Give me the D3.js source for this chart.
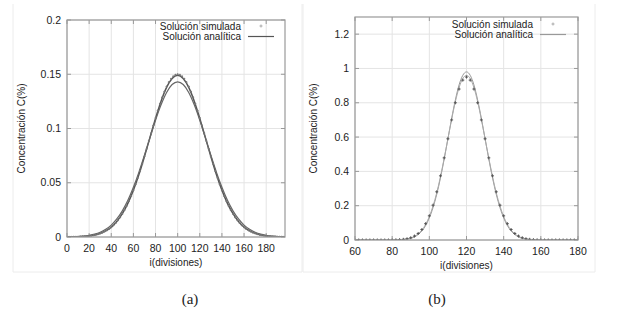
<!DOCTYPE html>
<html>
<head>
<meta charset="utf-8">
<script src="https://cdn.jsdelivr.net/npm/d3@7"></script>
<style>
  body { margin: 0; background: #fff; }
  svg { display: block; }
  text { font-family: "Liberation Sans", Arial, sans-serif; fill: #222; }
</style>
</head>
<body>
<svg id="chart" width="621" height="314"></svg>
<script>
// ---- panel (a) data ----
const simAx = d3.range(0, 200, 2);
const simAy = [
  0.0001, 0.0001, 0.0001, 0.0002, 0.0002, 0.0003, 0.0004, 0.0005, 0.0006, 0.0008,
  0.0010, 0.0013, 0.0016, 0.0021, 0.0026, 0.0033, 0.0040, 0.0050, 0.0061, 0.0074,
  0.0090, 0.0108, 0.0129, 0.0154, 0.0181, 0.0213, 0.0248, 0.0287, 0.0331, 0.0378,
  0.0430, 0.0485, 0.0545, 0.0608, 0.0674, 0.0743, 0.0813, 0.0885, 0.0956, 0.1028,
  0.1097, 0.1165, 0.1228, 0.1287, 0.1340, 0.1387, 0.1427, 0.1458, 0.1481, 0.1495,
  0.1500,
  0.1495, 0.1481, 0.1458, 0.1427, 0.1387, 0.1340, 0.1287, 0.1228, 0.1165, 0.1097,
  0.1028, 0.0956, 0.0885, 0.0813, 0.0743, 0.0674, 0.0608, 0.0545, 0.0485, 0.0430,
  0.0378, 0.0331, 0.0287, 0.0248, 0.0213, 0.0181, 0.0154, 0.0129, 0.0108, 0.0090,
  0.0074, 0.0061, 0.0050, 0.0040, 0.0033, 0.0026, 0.0021, 0.0016, 0.0013, 0.0010,
  0.0008, 0.0006, 0.0005, 0.0004, 0.0003, 0.0002, 0.0002, 0.0001, 0.0001
];
const anaAx = d3.range(0, 205, 5);
const anaAy = [
  0.0001, 0.0001, 0.0003, 0.0005, 0.0010, 0.0019, 0.0033, 0.0056, 0.0091, 0.0143,
  0.0215, 0.0310, 0.0431, 0.0576, 0.0742, 0.0918, 0.1093, 0.1252, 0.1379, 0.1461,
  0.1490,
  0.1461, 0.1379, 0.1252, 0.1093, 0.0918, 0.0742, 0.0576, 0.0431, 0.0310, 0.0215,
  0.0143, 0.0091, 0.0056, 0.0033, 0.0019, 0.0010, 0.0005, 0.0003, 0.0001, 0.0001
];
const ana2Ay = [
  0.0001, 0.0002, 0.0004, 0.0008, 0.0015, 0.0026, 0.0044, 0.0071, 0.0110, 0.0166,
  0.0241, 0.0338, 0.0458, 0.0598, 0.0753, 0.0916, 0.1076, 0.1218, 0.1332, 0.1405,
  0.1430,
  0.1405, 0.1332, 0.1218, 0.1076, 0.0916, 0.0753, 0.0598, 0.0458, 0.0338, 0.0241,
  0.0166, 0.0110, 0.0071, 0.0044, 0.0026, 0.0015, 0.0008, 0.0004, 0.0002, 0.0001
];
const xTicksA = [0, 20, 40, 60, 80, 100, 120, 140, 160, 180];
const yTicksA = [0, 0.05, 0.1, 0.15, 0.2];

// ---- panel (b) data ----
const simBx = d3.range(60, 182, 2);
const simBy = [
  0, 0, 0, 0, 0, 0, 0, 0, 0, 0, 0,
  0.001, 0.002, 0.004, 0.007, 0.013, 0.023, 0.038, 0.061, 0.095, 0.141,
  0.203, 0.281, 0.374, 0.479, 0.590, 0.700, 0.800, 0.880, 0.932,
  0.950,
  0.932, 0.880, 0.800, 0.700, 0.590, 0.479, 0.374, 0.281, 0.203, 0.141,
  0.095, 0.061, 0.038, 0.023, 0.013, 0.007, 0.004, 0.002, 0.001,
  0, 0, 0, 0, 0, 0, 0, 0, 0, 0, 0
];
const anaBy = [
  0, 0, 0, 0, 0, 0, 0, 0, 0, 0, 0,
  0.000, 0.001, 0.003, 0.005, 0.010, 0.018, 0.032, 0.053, 0.084, 0.129,
  0.189, 0.267, 0.362, 0.472, 0.590, 0.708, 0.816, 0.904, 0.960,
  0.980,
  0.960, 0.904, 0.816, 0.708, 0.590, 0.472, 0.362, 0.267, 0.189, 0.129,
  0.084, 0.053, 0.032, 0.018, 0.010, 0.005, 0.003, 0.001, 0.000,
  0, 0, 0, 0, 0, 0, 0, 0, 0, 0, 0
];
const ana2By = [
  0, 0, 0, 0, 0, 0, 0, 0, 0, 0, 0,
  0.001, 0.002, 0.003, 0.007, 0.012, 0.021, 0.036, 0.058, 0.091, 0.137,
  0.199, 0.276, 0.370, 0.477, 0.590, 0.703, 0.806, 0.888, 0.941,
  0.960,
  0.941, 0.888, 0.806, 0.703, 0.590, 0.477, 0.370, 0.276, 0.199, 0.137,
  0.091, 0.058, 0.036, 0.021, 0.012, 0.007, 0.003, 0.002, 0.001,
  0, 0, 0, 0, 0, 0, 0, 0, 0, 0, 0
];
const xTicksB = [60, 80, 100, 120, 140, 160, 180];
const yTicksB = [0, 0.2, 0.4, 0.6, 0.8, 1, 1.2];

const svg = d3.select("#chart");

// light figure frames
[[13, 302], [303, 595]].forEach(([l, r]) => {
  svg.append("path")
    .attr("d", `M${l},4V272H${r}V4`)
    .attr("fill", "none")
    .attr("stroke", "#ececec")
    .attr("stroke-width", 1);
});

function drawPanel(p) {
  const x = d3.scaleLinear().domain(p.xDomain).range([p.left, p.right]);
  const y = d3.scaleLinear().domain(p.yDomain).range([p.bottom, p.top]);
  const g = svg.append("g");

  // grid
  g.selectAll(".gx").data(p.xTicks).enter().append("line")
    .attr("x1", d => x(d)).attr("x2", d => x(d))
    .attr("y1", p.top).attr("y2", p.bottom)
    .attr("stroke", "#e4e4e4").attr("stroke-width", 1);
  g.selectAll(".gy").data(p.yTicks).enter().append("line")
    .attr("x1", p.left).attr("x2", p.right)
    .attr("y1", d => y(d)).attr("y2", d => y(d))
    .attr("stroke", "#e4e4e4").attr("stroke-width", 1);

  // ticks, inward and mirrored like gnuplot
  const tl = 4;
  p.xTicks.forEach(d => {
    g.append("line").attr("x1", x(d)).attr("x2", x(d)).attr("y1", p.bottom).attr("y2", p.bottom - tl).attr("stroke", "#999");
    g.append("line").attr("x1", x(d)).attr("x2", x(d)).attr("y1", p.top).attr("y2", p.top + tl).attr("stroke", "#999");
  });
  p.yTicks.forEach(d => {
    g.append("line").attr("x1", p.left).attr("x2", p.left + tl).attr("y1", y(d)).attr("y2", y(d)).attr("stroke", "#999");
    g.append("line").attr("x1", p.right).attr("x2", p.right - tl).attr("y1", y(d)).attr("y2", y(d)).attr("stroke", "#999");
  });

  // tick labels
  g.selectAll(".tx").data(p.xTicks).enter().append("text")
    .attr("x", d => x(d)).attr("y", p.bottom + 15)
    .attr("text-anchor", "middle").style("font-size", "10.5px")
    .text(d => d);
  g.selectAll(".ty").data(p.yTicks).enter().append("text")
    .attr("x", p.left - 6).attr("y", d => y(d) + 3.5)
    .attr("text-anchor", "end").style("font-size", "10.5px")
    .text(d => d);

  // axis labels
  g.append("text")
    .attr("x", (p.left + p.right) / 2).attr("y", p.bottom + 29)
    .attr("text-anchor", "middle").style("font-size", "10px")
    .text("i(divisiones)");
  g.append("text")
    .attr("transform", `translate(${p.ylabelX},${(p.top + p.bottom) / 2}) rotate(-90)`)
    .attr("text-anchor", "middle").style("font-size", "10px")
    .text("Concentración C(%)");

  // clip to plot area
  const clipId = "clip" + p.name;
  svg.append("clipPath").attr("id", clipId).append("rect")
    .attr("x", p.left).attr("y", p.top)
    .attr("width", p.right - p.left).attr("height", p.bottom - p.top);
  const plot = g.append("g").attr("clip-path", `url(#${clipId})`);

  const line = d3.line().x(d => x(d[0])).y(d => y(d[1])).curve(d3.curveMonotoneX);

  p.lines.forEach(l => {
    plot.append("path")
      .datum(l.xs.map((v, i) => [v, l.ys[i]]))
      .attr("d", line)
      .attr("fill", "none")
      .attr("stroke", l.color)
      .attr("stroke-width", l.width);
  });

  // simulated points as small crosses
  const s = p.points.r;
  plot.selectAll(".pt").data(p.points.xs.map((v, i) => [v, p.points.ys[i]]))
    .enter().append("path")
    .attr("d", d => {
      const cx = x(d[0]), cy = y(d[1]);
      return `M${cx - s},${cy}H${cx + s}M${cx},${cy - s}V${cy + s}`;
    })
    .attr("stroke", p.points.color)
    .attr("stroke-width", 1)
    .attr("fill", "none");

  // plot border
  g.append("rect")
    .attr("x", p.left).attr("y", p.top)
    .attr("width", p.right - p.left).attr("height", p.bottom - p.top)
    .attr("fill", "none").attr("stroke", "#999").attr("stroke-width", 1.2);

  // legend
  const lx = p.legendX, ly = p.legendY;
  g.append("text").attr("x", lx).attr("y", ly + 3.5)
    .attr("text-anchor", "end").style("font-size", "10px")
    .text("Solución simulada");
  g.append("text").attr("x", lx).attr("y", ly + 14)
    .attr("text-anchor", "end").style("font-size", "10px")
    .text("Solución analítica");
  g.append("path")
    .attr("d", `M${lx + 18.5},${ly}H${lx + 21.5}M${lx + 20},${ly - 1.5}V${ly + 1.5}`)
    .attr("stroke", "#aaa").attr("stroke-width", 1);
  g.append("line")
    .attr("x1", lx + 7).attr("x2", lx + 33)
    .attr("y1", ly + 10.5).attr("y2", ly + 10.5)
    .attr("stroke", p.lines[0].color).attr("stroke-width", 1.2);

  // caption
  svg.append("text")
    .attr("x", p.captionX).attr("y", 304)
    .attr("text-anchor", "middle")
    .style("font-family", "'Liberation Serif', 'DejaVu Serif', serif")
    .style("font-size", "15px")
    .text(p.caption);
}

drawPanel({
  name: "a",
  left: 67, right: 285, top: 20, bottom: 237,
  xDomain: [0, 197], yDomain: [0, 0.2],
  xTicks: xTicksA, yTicks: yTicksA,
  ylabelX: 25,
  lines: [
    { xs: anaAx, ys: anaAy, color: "#555", width: 1.5 },
    { xs: anaAx, ys: ana2Ay, color: "#666", width: 1.2 }
  ],
  points: { xs: simAx, ys: simAy, color: "#777", r: 1 },
  legendX: 241, legendY: 26,
  caption: "(a)", captionX: 190
});

drawPanel({
  name: "b",
  left: 355, right: 578, top: 17, bottom: 240,
  xDomain: [60, 180], yDomain: [0, 1.3],
  xTicks: xTicksB, yTicks: yTicksB,
  ylabelX: 317,
  lines: [
    { xs: simBx, ys: anaBy, color: "#999", width: 1 },
    { xs: simBx, ys: ana2By, color: "#aaa", width: 1 }
  ],
  points: { xs: simBx, ys: simBy, color: "#555", r: 1.5 },
  legendX: 533, legendY: 24,
  caption: "(b)", captionX: 437
});
</script>
</body>
</html>
